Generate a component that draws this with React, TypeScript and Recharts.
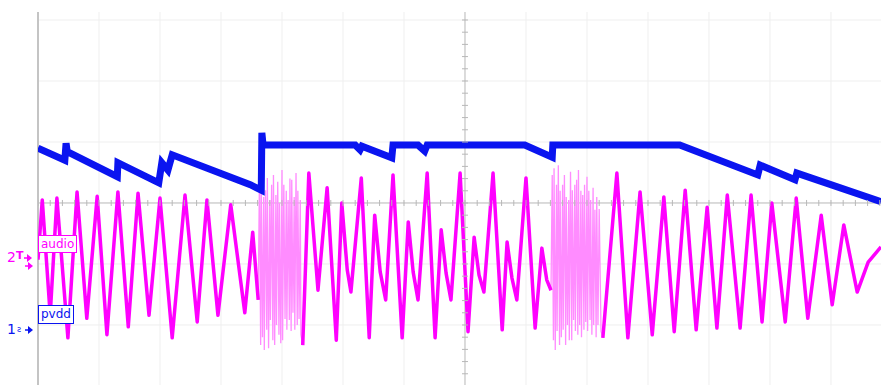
import React from "react";
import { ComposedChart, Line, Scatter, XAxis, YAxis, ReferenceLine } from "recharts";

// time in ms (10 ms/div), level in divisions (1 V/div)
const pvddTrace: [number, number][] = [
  [0, 0.9], [4.4, 0.7], [4.6, 0.98], [4.8, 0.84], [13.0, 0.43], [13.1, 0.66],
  [19.8, 0.33], [20.3, 0.66], [21.3, 0.54], [22.0, 0.79], [34.8, 0.3], [36.6, 0.21],
  [36.7, 1.15], [36.9, 0.95], [52.0, 0.95], [52.8, 0.87], [53.1, 0.93], [58.0, 0.74],
  [58.2, 0.95], [62.3, 0.95], [63.4, 0.85], [63.8, 0.95], [79.8, 0.95], [84.3, 0.75],
  [84.4, 0.95], [105.2, 0.95], [118.0, 0.46], [118.4, 0.62], [124.1, 0.38], [124.4, 0.49],
  [138.2, 0.02],
];

const audioStart: [number, number][] = [
  [0, -0.93], [0.7, 0.05], [2.0, -1.84], [3.1, 0.08], [4.9, -2.21], [6.4, 0.18],
  [8.0, -1.89], [9.7, 0.11], [11.3, -2.16], [13.1, 0.18], [14.8, -2.03], [16.4, 0.16],
  [18.2, -1.84], [20.0, 0.08], [22.0, -2.21], [24.1, 0.13], [26.1, -1.95], [27.7, 0.05],
  [29.5, -1.84], [31.6, -0.03], [33.9, -1.8], [35.2, -0.48], [36.1, -1.59],
];

const audioBurst1: [number, number][] = [
  [36.1, -1.59], [36.3, 0.38], [36.5, -2.33], [36.6, 0.51], [36.8, -2.2], [37.0, 0.1],
  [37.1, -2.41], [37.3, 0.21], [37.5, -2.08], [37.6, 0.41], [37.8, -2.38], [38.0, 0.05],
  [38.1, -1.92], [38.3, 0.3], [38.5, -2.25], [38.6, 0.46], [38.8, -2.33], [39.0, 0.13],
  [39.1, -2.0], [39.3, 0.35], [39.5, -2.16], [39.6, 0.0], [39.8, -2.3], [40.0, 0.54],
  [40.1, -2.25], [40.3, 0.3], [40.5, -1.9], [40.7, 0.2], [40.8, -2.08], [41.0, 0.05],
  [41.2, -1.92], [41.3, 0.4], [41.5, -2.1], [41.6, 0.38], [41.8, -1.8], [42.0, 0.1],
  [42.1, -2.08], [42.3, 0.49], [42.5, -2.0], [42.6, 0.2], [42.8, -1.9], [43.0, 0.05],
  [43.1, -2.16], [43.4, -2.33],
];

const audioMiddle: [number, number][] = [
  [43.4, -2.33], [44.4, 0.49], [45.9, -1.43], [47.4, 0.25], [48.9, -2.25], [49.8, 0.0],
  [50.7, -1.1], [51.3, -1.46], [53.0, 0.41], [54.3, -2.21], [55.2, -0.2], [56.1, -1.13],
  [57.0, -1.59], [58.2, 0.46], [59.7, -2.21], [60.7, -0.31], [61.5, -1.13], [62.3, -1.59],
  [63.8, 0.49], [65.1, -2.21], [66.1, -0.44], [66.9, -1.15], [67.7, -1.59], [69.2, 0.49],
  [70.5, -2.11], [71.5, -0.56], [72.3, -1.18], [73.1, -1.46], [74.6, 0.49], [76.1, -2.08],
  [76.9, -0.64], [77.7, -1.23], [78.5, -1.59], [80.0, 0.41], [81.5, -2.05], [82.6, -0.74],
  [83.4, -1.26], [84.1, -1.43],
];

const audioBurst2: [number, number][] = [
  [84.1, -1.43], [84.3, 0.46], [84.5, -2.25], [84.6, 0.57], [84.8, -2.41], [85.0, 0.3],
  [85.1, -2.1], [85.3, 0.62], [85.5, -2.33], [85.6, 0.2], [85.8, -2.2], [86.0, 0.3],
  [86.1, -2.08], [86.3, 0.46], [86.5, -2.33], [86.6, 0.1], [86.8, -2.0], [87.0, 0.05],
  [87.1, -2.25], [87.3, 0.51], [87.5, -2.25], [87.6, 0.21], [87.8, -1.92], [88.0, 0.3],
  [88.1, -2.1], [88.3, 0.38], [88.5, -2.16], [88.6, 0.54], [88.8, -2.0], [89.0, 0.2],
  [89.1, -2.2], [89.3, 0.13], [89.5, -2.08], [89.6, 0.3], [89.8, -1.95], [90.0, 0.43],
  [90.1, -2.1], [90.3, 0.2], [90.5, -1.92], [90.6, 0.05], [90.8, -2.16], [91.0, 0.25],
  [91.1, -2.0], [91.3, -0.11], [91.5, -2.2], [91.6, 0.1], [91.8, -2.0], [92.0, -0.1],
  [92.3, -2.1], [92.6, -2.21],
];

const audioEnd: [number, number][] = [
  [92.6, -2.21], [94.9, 0.49], [96.7, -2.21], [98.7, 0.18], [100.7, -2.16], [102.6, 0.1],
  [104.3, -2.11], [106.1, 0.21], [107.9, -2.08], [109.7, -0.07], [111.3, -2.05], [113.0, 0.13],
  [115.1, -2.05], [116.9, 0.13], [118.7, -1.95], [120.3, 0.0], [122.5, -1.95], [124.3, 0.08],
  [126.2, -1.89], [128.4, -0.2], [130.2, -1.67], [132.1, -0.36], [134.3, -1.46], [136.1, -0.97],
  [138.2, -0.72],
];

const gridTimes = [10, 20, 30, 40, 50, 60, 80, 90, 100, 110, 120, 130];
const gridLevels = [3, 2, 1, -1, -2];
const X_DOMAIN: [number, number] = [0, 138.2];
const Y_DOMAIN: [number, number] = [-2.984, 3.131];

const toPts = (arr: [number, number][]) => arr.map(([t, v]) => ({ t, v }));

const audioMain = [
  ...toPts(audioStart),
  { t: 40, v: null },
  ...toPts(audioMiddle),
  { t: 88, v: null },
  ...toPts(audioEnd),
];

const hTicks: { t: number; v: number }[] = [];
for (let t = 0; t <= 138; t += 2) hTicks.push({ t, v: 0 });
const vTicks: { t: number; v: number }[] = [];
for (let i = -14; i <= 15; i++) vTicks.push({ t: 70, v: i * 0.2 });

const AXIS = "#b8b8b8";
const GRID = "#efefef";
const MAGENTA = "#ff00ff";
const BURST = "#ff8cff";
const BLUE = "#0a14f0";

const HTick = (p: any) => (
  <line x1={p.cx} x2={p.cx} y1={p.cy - 3} y2={p.cy + 3} stroke={AXIS} strokeWidth={1} />
);
const VTick = (p: any) => (
  <line x1={p.cx - 3} x2={p.cx + 3} y1={p.cy} y2={p.cy} stroke={AXIS} strokeWidth={1} />
);

const labelFont = '"DejaVu Sans", Arial, sans-serif';

const Arrow = ({ x, y, color }: { x: number; y: number; color: string }) => (
  <g>
    <line x1={x} y1={y} x2={x + 5} y2={y} stroke={color} strokeWidth={1.5} />
    <polygon points={`${x + 3},${y - 4} ${x + 8},${y} ${x + 3},${y + 4}`} fill={color} />
  </g>
);

export default function App() {
  return (
    <div style={{ position: "absolute", left: 0, top: 0, width: 881, height: 385, background: "#fff", overflow: "hidden" }}>
      <ComposedChart width={881} height={385} margin={{ top: 12, right: 0, bottom: 0, left: 38 }}>
        <XAxis type="number" dataKey="t" domain={X_DOMAIN} hide allowDataOverflow />
        <YAxis type="number" dataKey="v" domain={Y_DOMAIN} hide allowDataOverflow />
        {gridTimes.map((t) => (
          <ReferenceLine key={"gx" + t} x={t} stroke={GRID} strokeWidth={1} />
        ))}
        {gridLevels.map((v) => (
          <ReferenceLine key={"gy" + v} y={v} stroke={GRID} strokeWidth={1} />
        ))}
        <ReferenceLine x={70} stroke={AXIS} strokeWidth={1} />
        <ReferenceLine y={0} stroke={AXIS} strokeWidth={1} />
        <ReferenceLine x={0} stroke="#c4c4c4" strokeWidth={2} />
        <Scatter data={hTicks} shape={HTick} isAnimationActive={false} />
        <Scatter data={vTicks} shape={VTick} isAnimationActive={false} />
        <Line data={toPts(audioBurst1)} dataKey="v" type="linear" stroke={BURST} strokeWidth={1.3} dot={false} isAnimationActive={false} />
        <Line data={toPts(audioBurst2)} dataKey="v" type="linear" stroke={BURST} strokeWidth={1.3} dot={false} isAnimationActive={false} />
        <Line data={audioMain} dataKey="v" type="linear" stroke={MAGENTA} strokeWidth={3.5} strokeLinejoin="round" dot={false} isAnimationActive={false} connectNulls={false} />
        <Line data={toPts(pvddTrace)} dataKey="v" type="linear" stroke={BLUE} strokeWidth={7} dot={false} isAnimationActive={false} />
      </ComposedChart>

      <div style={{ position: "absolute", left: 38, top: 235, height: 16, padding: "0 2px", border: `1px solid ${MAGENTA}`, background: "#fff", color: MAGENTA, fontFamily: labelFont, fontSize: 12, lineHeight: "16px" }}>audio</div>
      <div style={{ position: "absolute", left: 38, top: 305, height: 17, padding: "0 2px", border: `1px solid ${BLUE}`, background: "#fff", color: BLUE, fontFamily: labelFont, fontSize: 12, lineHeight: "17px" }}>pvdd</div>

      <div style={{ position: "absolute", left: 7, top: 249, color: MAGENTA, fontFamily: labelFont, fontSize: 14, lineHeight: "16px" }}>2</div>
      <div style={{ position: "absolute", left: 16, top: 250, color: MAGENTA, fontFamily: labelFont, fontSize: 11, fontWeight: "bold", lineHeight: "12px" }}>T</div>
      <div style={{ position: "absolute", left: 7, top: 321, color: BLUE, fontFamily: labelFont, fontSize: 14, lineHeight: "16px" }}>1</div>
      <div style={{ position: "absolute", left: 17, top: 325, color: BLUE, fontFamily: labelFont, fontSize: 8, lineHeight: "10px" }}>ƨ</div>

      <svg width={38} height={385} style={{ position: "absolute", left: 0, top: 0 }}>
        <Arrow x={24} y={258} color={MAGENTA} />
        <Arrow x={25} y={266} color={MAGENTA} />
        <Arrow x={25} y={330} color={BLUE} />
      </svg>
    </div>
  );
}
